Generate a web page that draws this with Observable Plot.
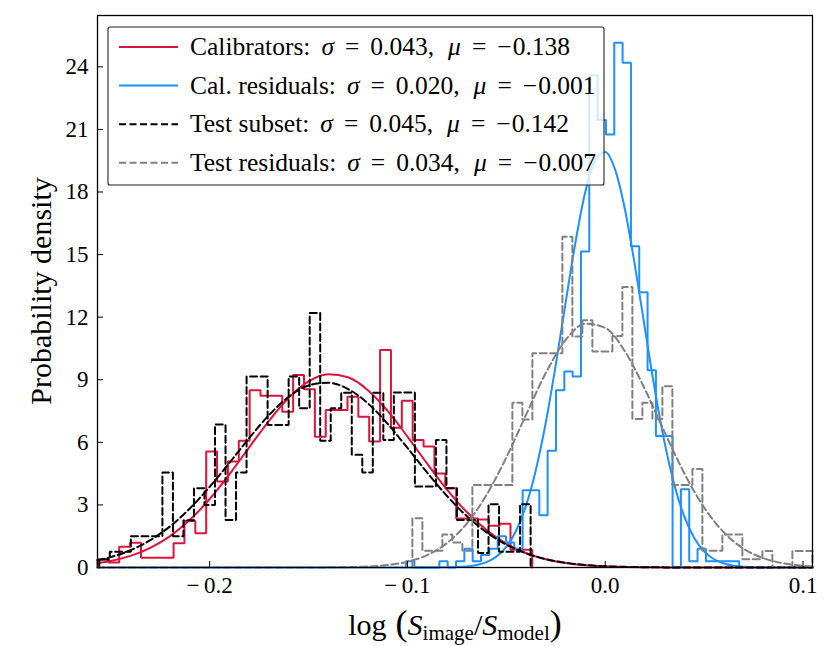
<!DOCTYPE html>
<html><head><meta charset="utf-8">
<script src="https://cdn.jsdelivr.net/npm/d3@7"></script>
<script src="https://cdn.jsdelivr.net/npm/@observablehq/plot@0.6"></script>
<style>
body{margin:0;background:#fff;}
#chart{width:830px;height:646px;}
</style></head><body><div id="chart"></div>
<script>
// ---------- histogram data (probability density per bin) ----------
const calBinStart = -0.2567, calBinWidth = 0.005495;
const calDensity = [0.40,0.24,1.00,1.19,0.47,0.47,0.47,1.16,2.23,1.64,
  5.56,4.12,5.08,6.07,8.50,8.23,8.23,7.47,9.23,8.55,
  6.27,7.55,7.55,8.19,7.23,6.04,10.43,6.70,7.99,6.11,
  5.80,4.50,3.80,2.35,2.35,2.30,2.00,2.10,0.85,0.85];

const calResBinStart = -0.1007, calResBinWidth = 0.004211;
const calResDensity = [0.30,0,0,0,0.30,0,0.30,0.90,0.30,0.60,
  0.90,1.50,1.20,0.90,3.70,3.70,2.50,5.60,8.50,9.40,
  9.15,15.15,23.60,21.45,20.75,25.15,24.20,15.40,13.20,9.45,
  6.30,6.30,0,3.75,0.30,0.90,0.30,0.30,0.30,0.30];

const testBinStart = -0.2558, testBinWidth = 0.005319;
const testDensity = [0.38,0.75,0.75,1.50,1.50,1.50,4.55,1.50,2.26,3.80,
  3.00,6.85,2.28,4.55,9.15,9.15,6.83,6.83,9.15,7.63,
  12.20,6.08,7.63,8.38,5.40,4.55,8.38,6.11,8.39,8.39,
  3.88,3.88,6.11,3.80,2.28,2.28,0.70,3.03,0.76,0.76,3.03];

const testResBinStart = -0.0975, testResBinWidth = 0.005056;
const testResDensity = [2.36,0.80,0.80,1.58,1.20,0.80,3.95,3.95,3.95,3.95,
  7.90,7.10,10.27,10.27,10.27,15.85,11.07,11.85,10.35,10.35,
  11.10,13.45,7.12,7.90,7.12,8.69,3.95,3.95,4.72,0.80,
  0.80,1.58,1.58,0.40,0.40,0.79,0,0,0.79,0.79];

// ---------- fitted curves, values ----------
const fitX = [-0.2567,-0.25,-0.24,-0.23,-0.22,-0.21,-0.20,-0.19,-0.18,-0.17,-0.16,-0.15,-0.14,-0.13,-0.12,-0.11,-0.10,-0.09,-0.08,-0.07,-0.06,-0.05,-0.04,-0.03,-0.02,-0.01,0.00,0.01,0.02,0.03,0.04,0.05,0.06,0.07,0.08,0.09,0.10,0.1048];
const calFit = [0.206,0.312,0.557,0.941,1.506,2.284,3.283,4.467,5.758,7.034,8.139,8.924,9.268,9.119,8.500,7.506,6.278,4.976,3.735,2.658,1.791,1.143,0.691,0.396,0.215,0.110,0.054,0.025,0.011,0.005,0.002,0.001,0,0,0,0,0,0];
const testFit = [0.344,0.497,0.828,1.310,1.974,2.830,3.863,5.018,6.205,7.305,8.183,8.726,8.856,8.555,7.867,6.885,5.735,4.545,3.432,2.465,1.685,1.097,0.679,0.400,0.225,0.120,0.061,0.030,0.014,0.006,0.003,0.001,0,0,0,0,0,0];
const testResFit = [0,0,0,0,0,0,0,0,0,0,0,0.002,0.006,0.017,0.047,0.119,0.278,0.596,1.171,2.107,3.481,5.272,7.325,9.335,10.906,11.687,11.487,10.354,8.559,6.491,4.515,2.879,1.683,0.902,0.444,0.200,0.083,0.052];
const calResFitX = [-0.2567,-0.15,-0.10,-0.09,-0.08,-0.075,-0.07,-0.065,-0.06,-0.055,-0.05,-0.045,-0.04,-0.035,-0.03,-0.025,-0.02,-0.015,-0.01,-0.005,0.0,0.005,0.01,0.015,0.02,0.025,0.03,0.035,0.04,0.045,0.05,0.055,0.06,0.065,0.07,0.08,0.09,0.1048];
const calResFit = [0,0,0,0.001,0.008,0.021,0.052,0.119,0.257,0.521,0.992,1.773,2.980,4.702,6.972,9.710,12.706,15.613,18.031,19.552,19.922,19.070,17.148,14.484,11.497,8.569,6.000,3.947,2.440,1.416,0.772,0.395,0.190,0.086,0.037,0.005,0.001,0];

// ---------- axes ----------
const xDomain = [-0.2567, 0.1048];
const yDomain = [0, 26.46];
const xTicks = [-0.2, -0.1, 0.0, 0.1];
const yTicks = [0, 3, 6, 9, 12, 15, 18, 21, 24];

const legendItems = [
  {name: "Calibrators", sigma: "0.043", mu: "0.138", color: "#dc143c", dash: null},
  {name: "Cal. residuals", sigma: "0.020", mu: "0.001", color: "#1e90ff", dash: null},
  {name: "Test subset", sigma: "0.045", mu: "0.142", color: "#000000", dash: "7,3.5"},
  {name: "Test residuals", sigma: "0.034", mu: "0.007", color: "#808080", dash: "7,3.5"}
];

// ---------- build tables ----------
function stepTable(start, width, dens) {
  const pts = [{x: start, y: 0}];
  dens.forEach((h, i) => {
    pts.push({x: start + i * width, y: h});
    pts.push({x: start + (i + 1) * width, y: h});
  });
  pts.push({x: start + dens.length * width, y: 0});
  return pts;
}
function curveTable(xs, ys) { return xs.map((x, i) => ({x, y: ys[i]})); }

const calHist = stepTable(calBinStart, calBinWidth, calDensity);
const calResHist = stepTable(calResBinStart, calResBinWidth, calResDensity);
const testHist = stepTable(testBinStart, testBinWidth, testDensity);
const testResHist = stepTable(testResBinStart, testResBinWidth, testResDensity);

const fmtX = d => Math.abs(d) < 1e-9 ? "0.0" : (d < 0 ? "\u2212\u2009" + Math.abs(d).toFixed(1) : d.toFixed(1));
const lw = 2;
const ff = "'Liberation Serif', 'Times New Roman', serif";

const chart = Plot.plot({
  width: 830, height: 646,
  marginLeft: 97, marginRight: 18, marginTop: 15, marginBottom: 79,
  style: {fontFamily: ff, fontSize: "23px", background: "white", color: "black", overflow: "visible"},
  x: {domain: xDomain, label: null},
  y: {domain: yDomain, label: null},
  marks: [
    Plot.line(calHist, {x: "x", y: "y", stroke: legendItems[0].color, strokeWidth: lw, strokeLinejoin: "miter"}),
    Plot.line(curveTable(fitX, calFit), {x: "x", y: "y", stroke: legendItems[0].color, strokeWidth: lw, curve: "monotone-x"}),
    Plot.line(calResHist, {x: "x", y: "y", stroke: legendItems[1].color, strokeWidth: lw, strokeLinejoin: "miter"}),
    Plot.line(curveTable(calResFitX, calResFit), {x: "x", y: "y", stroke: legendItems[1].color, strokeWidth: lw, curve: "monotone-x"}),
    Plot.line(testHist, {x: "x", y: "y", stroke: legendItems[2].color, strokeWidth: lw, strokeDasharray: legendItems[2].dash, strokeLinejoin: "miter"}),
    Plot.line(curveTable(fitX, testFit), {x: "x", y: "y", stroke: legendItems[2].color, strokeWidth: lw, strokeDasharray: legendItems[2].dash, curve: "monotone-x"}),
    Plot.line(testResHist, {x: "x", y: "y", stroke: legendItems[3].color, strokeWidth: lw, strokeDasharray: legendItems[3].dash, strokeLinejoin: "miter"}),
    Plot.line(curveTable(fitX, testResFit), {x: "x", y: "y", stroke: legendItems[3].color, strokeWidth: lw, strokeDasharray: legendItems[3].dash, curve: "monotone-x"}),
    Plot.frame({stroke: "black", strokeWidth: 1.3}),
    Plot.axisX({ticks: xTicks, tickFormat: fmtX, tickSize: -6, tickPadding: 15, fontSize: 23, label: null}),
    Plot.axisY({ticks: yTicks, tickSize: -6, tickPadding: 15, fontSize: 23, label: null})
  ]
});
document.getElementById("chart").appendChild(chart);

// ---------- legend and axis titles ----------
const svg = d3.select(chart);
const lg = svg.append("g");
lg.append("rect").attr("x", 108).attr("y", 27).attr("width", 496).attr("height", 158)
  .attr("rx", 2).attr("fill", "white").attr("fill-opacity", 0.8)
  .attr("stroke", "#222").attr("stroke-width", 1.1);
legendItems.forEach((d, i) => {
  const cy = 47 + i * 38.6;
  lg.append("line").attr("x1", 119).attr("x2", 178).attr("y1", cy).attr("y2", cy)
    .attr("stroke", d.color).attr("stroke-width", lw)
    .attr("stroke-dasharray", d.dash);
  const t = lg.append("text").attr("x", 190).attr("y", cy + 8)
    .attr("text-anchor", "start")
    .attr("font-family", ff).attr("font-size", 25.5).attr("fill", "black");
  t.append("tspan").text(d.name + ":");
  t.append("tspan").attr("dx", 11).attr("font-style", "italic").text("\u03C3");
  t.append("tspan").attr("dx", 11).text("=");
  t.append("tspan").attr("dx", 11).text(d.sigma + ",");
  t.append("tspan").attr("dx", 14).attr("font-style", "italic").text("\u03BC");
  t.append("tspan").attr("dx", 11).text("=");
  t.append("tspan").attr("dx", 11).text("\u2212");
  t.append("tspan").attr("dx", 1).text(d.mu);
});

svg.append("text").attr("transform", "translate(51,291) rotate(-90)")
  .attr("text-anchor", "middle").attr("font-family", ff).attr("font-size", 30)
  .attr("fill", "black").text("Probability density");

const xl = svg.append("text").attr("x", 455).attr("y", 635).attr("text-anchor", "middle")
  .attr("font-family", ff).attr("font-size", 30).attr("fill", "black");
xl.append("tspan").text("log");
xl.append("tspan").attr("dx", 9).attr("font-size", 36).text("(");
xl.append("tspan").attr("font-style", "italic").text("S");
xl.append("tspan").attr("font-size", 21).attr("dy", 5).text("image");
xl.append("tspan").attr("dy", -5).text("/");
xl.append("tspan").attr("font-style", "italic").text("S");
xl.append("tspan").attr("font-size", 21).attr("dy", 5).text("model");
xl.append("tspan").attr("dy", -5).attr("font-size", 36).text(")");
</script>
</body></html>
